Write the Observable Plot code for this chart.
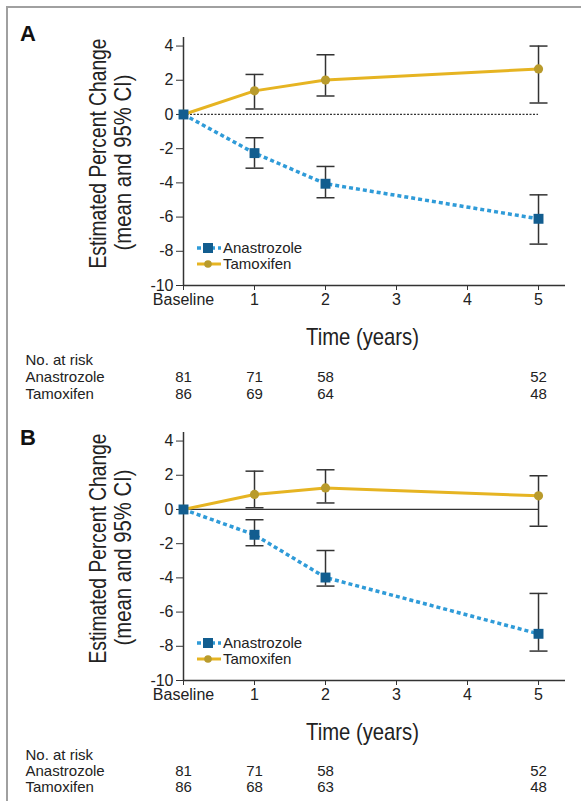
<!DOCTYPE html>
<html><head><meta charset="utf-8">
<script src="https://cdn.jsdelivr.net/npm/d3@7"></script>
<script src="https://cdn.jsdelivr.net/npm/@observablehq/plot@0.6"></script>
<style>
body{margin:0;background:#fff;}
#wrap{position:relative;width:581px;height:801px;overflow:hidden;font-family:"Liberation Sans",Arial,sans-serif;}
.frameTop{position:absolute;left:6px;top:6px;width:575px;height:2px;background:#a0a0a0;}
.frameLeft{position:absolute;left:6px;top:6px;width:2px;height:795px;background:#a0a0a0;}
.panel{position:absolute;left:0;}
</style></head><body>
<div id="wrap">
  <div class="frameTop"></div><div class="frameLeft"></div>
  <div class="panel" id="pA" style="top:0px"></div>
  <div class="panel" id="pB" style="top:394.5px"></div>
</div>
<script>
// ---- shared categories / ticks ----
const times = [0, 1, 2, 5];
const xTickValues = [0, 1, 2, 3, 4, 5];
const xTickLabels = ["Baseline", "1", "2", "3", "4", "5"];
const yTickValues = [4, 2, 0, -2, -4, -6, -8, -10];
const groups = ["Anastrozole", "Tamoxifen"];

// ---- Panel A ----
const aAnaMean = [0, -2.26, -4.05, -6.1];
const aAnaLow  = [null, -3.14, -4.87, -7.58];
const aAnaHigh = [null, -1.36, -3.04, -4.7];
const aTamMean = [0, 1.38, 2.01, 2.66];
const aTamLow  = [null, 0.32, 1.08, 0.67];
const aTamHigh = [null, 2.34, 3.49, 4.0];
const aRiskAna = [81, 71, 58, 52];
const aRiskTam = [86, 69, 64, 48];

// ---- Panel B ----
const bAnaMean = [0, -1.48, -3.98, -7.27];
const bAnaLow  = [null, -2.12, -4.48, -8.28];
const bAnaHigh = [null, -0.6, -2.4, -4.91];
const bTamMean = [0, 0.88, 1.26, 0.8];
const bTamLow  = [null, 0.1, 0.38, -0.98];
const bTamHigh = [null, 2.24, 2.32, 1.97];
const bRiskAna = [81, 71, 58, 52];
const bRiskTam = [86, 68, 63, 48];

const SANS = '"Liberation Sans",Arial,sans-serif';
const COL = {
  anaLine: "#2f9bd8", anaPt: "#125d8f",
  tamLine: "#e6b422", tamPt: "#b99b2c",
  err: "#333333", axis: "#333333"
};
const TITLE_X = "Time (years)";
const TITLE_Y1 = "Estimated Percent Change";
const TITLE_Y2 = "(mean and 95% CI)";

const capSymbol = {draw(ctx, size) { const r = Math.sqrt(size / Math.PI); ctx.moveTo(-r, 0); ctx.lineTo(r, 0); }};

function makePanel(cfg) {
  const mk = (g, mean, low, high) => times.map((t, i) => ({group: g, time: t, mean: mean[i], low: low[i], high: high[i]}));
  const ana = mk(groups[0], cfg.anaMean, cfg.anaLow, cfg.anaHigh);
  const tam = mk(groups[1], cfg.tamMean, cfg.tamLow, cfg.tamHigh);
  const ci = ana.concat(tam).filter(d => d.low != null);
  const riskA = times.map((t, i) => ({time: t, n: String(cfg.riskAna[i])}));
  const riskT = times.map((t, i) => ({time: t, n: String(cfg.riskTam[i])}));
  const H = cfg.height;
  const T = {lineAnchor: "middle", fill: "#222"};
  const svg = Plot.plot({
    width: 581, height: H,
    marginTop: 37, marginLeft: 183, marginRight: 16, marginBottom: H - 285,
    x: {domain: [0, 5.38]},
    y: {domain: [-10, 4.5]},
    style: {background: "none", overflow: "visible", fontFamily: SANS, color: "#222"},
    marks: [
      Plot.ruleY([0], {x1: d3.min(times), x2: d3.max(times), stroke: COL.axis, strokeWidth: 1.2, strokeDasharray: cfg.zeroDash}),
      Plot.ruleX([0], {stroke: COL.axis, strokeWidth: 1.5}),
      Plot.ruleY([-10], {stroke: COL.axis, strokeWidth: 1.5}),
      Plot.axisX(xTickValues, {tickFormat: d => xTickLabels[xTickValues.indexOf(d)], tickSize: 5, tickPadding: 3, fontSize: 16, label: null, stroke: COL.axis}),
      Plot.axisY(yTickValues, {tickFormat: d => String(d), tickSize: 7, tickPadding: 3, fontSize: 16, label: null, stroke: COL.axis}),
      Plot.line(tam, {x: "time", y: "mean", stroke: COL.tamLine, strokeWidth: 3}),
      Plot.line(ana, {x: "time", y: "mean", stroke: COL.anaLine, strokeWidth: 3.5, strokeDasharray: "4,3", strokeLinecap: "butt"}),
      Plot.ruleX(ci, {x: "time", y1: "low", y2: "high", stroke: COL.err, strokeWidth: 1.5}),
      Plot.dot(ci, {x: "time", y: "low", symbol: capSymbol, r: 9, stroke: COL.err, strokeWidth: 1.5}),
      Plot.dot(ci, {x: "time", y: "high", symbol: capSymbol, r: 9, stroke: COL.err, strokeWidth: 1.5}),
      Plot.dot(tam, {x: "time", y: "mean", r: 4.6, fill: COL.tamPt}),
      Plot.dot(ana, {x: "time", y: "mean", symbol: "square", r: 5.6, fill: COL.anaPt}),
      // axis titles
      Plot.text([TITLE_X], {...T, text: d => d, frameAnchor: "bottom", textAnchor: "middle", dx: -12, dy: 52, fontSize: 24}),
      Plot.text([TITLE_Y1], {...T, text: d => d, frameAnchor: "left", textAnchor: "middle", rotate: -90, dx: -85, dy: -8, fontSize: 24}),
      Plot.text([TITLE_Y2], {...T, text: d => d, frameAnchor: "left", textAnchor: "middle", rotate: -90, dx: -60, dy: 1, fontSize: 24}),
      // risk table
      Plot.text(["No. at risk"], {...T, text: d => d, frameAnchor: "bottom-left", textAnchor: "start", dx: -158, dy: cfg.riskDy[0], fontSize: 15}),
      Plot.text([groups[0]], {...T, text: d => d, frameAnchor: "bottom-left", textAnchor: "start", dx: -158, dy: cfg.riskDy[1], fontSize: 15}),
      Plot.text([groups[1]], {...T, text: d => d, frameAnchor: "bottom-left", textAnchor: "start", dx: -158, dy: cfg.riskDy[2], fontSize: 15}),
      Plot.text(riskA, {...T, x: "time", text: "n", frameAnchor: "bottom", dy: cfg.riskDy[1], fontSize: 15}),
      Plot.text(riskT, {...T, x: "time", text: "n", frameAnchor: "bottom", dy: cfg.riskDy[2], fontSize: 15})
    ]
  });
  const s = d3.select(svg);
  // condensed look for the axis titles
  const squeeze = {[TITLE_X]: 113, [TITLE_Y1]: 230, [TITLE_Y2]: 176};
  s.selectAll("text").each(function() {
    const w = squeeze[this.textContent];
    if (w) d3.select(this).attr("textLength", w).attr("lengthAdjust", "spacingAndGlyphs");
  });
  // legend
  const lg = s.append("g").attr("font-family", SANS).attr("font-size", 15).attr("fill", "#222").attr("text-anchor", "start");
  const y1 = 248, y2 = 264;
  lg.append("line").attr("x1", 197).attr("x2", 221).attr("y1", y1).attr("y2", y1).attr("stroke", COL.anaLine).attr("stroke-width", 3.5).attr("stroke-dasharray", "4,3");
  lg.append("rect").attr("x", 203).attr("y", y1 - 5).attr("width", 10).attr("height", 10).attr("fill", COL.anaPt);
  lg.append("text").attr("x", 223).attr("y", y1).attr("dy", "0.35em").text(groups[0]);
  lg.append("line").attr("x1", 197).attr("x2", 221).attr("y1", y2).attr("y2", y2).attr("stroke", COL.tamLine).attr("stroke-width", 3);
  lg.append("circle").attr("cx", 208).attr("cy", y2).attr("r", 3.8).attr("fill", COL.tamPt);
  lg.append("text").attr("x", 223).attr("y", y2).attr("dy", "0.35em").text(groups[1]);
  // panel letter
  s.append("text").attr("x", 20).attr("y", cfg.letterY).attr("text-anchor", "start").attr("font-family", SANS).attr("font-weight", "bold").attr("font-size", 22).attr("fill", "#111").text(cfg.letter);
  return svg;
}

document.getElementById("pA").appendChild(makePanel({
  letter: "A", letterY: 41, height: 400, zeroDash: "2,1.5",
  anaMean: aAnaMean, anaLow: aAnaLow, anaHigh: aAnaHigh,
  tamMean: aTamMean, tamLow: aTamLow, tamHigh: aTamHigh,
  riskAna: aRiskAna, riskTam: aRiskTam, riskDy: [75, 92, 109]
}));
document.getElementById("pB").appendChild(makePanel({
  letter: "B", letterY: 49.5, height: 406, zeroDash: null,
  anaMean: bAnaMean, anaLow: bAnaLow, anaHigh: bAnaHigh,
  tamMean: bTamMean, tamLow: bTamLow, tamHigh: bTamHigh,
  riskAna: bRiskAna, riskTam: bRiskTam, riskDy: [75, 91, 107]
}));
</script>
</body></html>
